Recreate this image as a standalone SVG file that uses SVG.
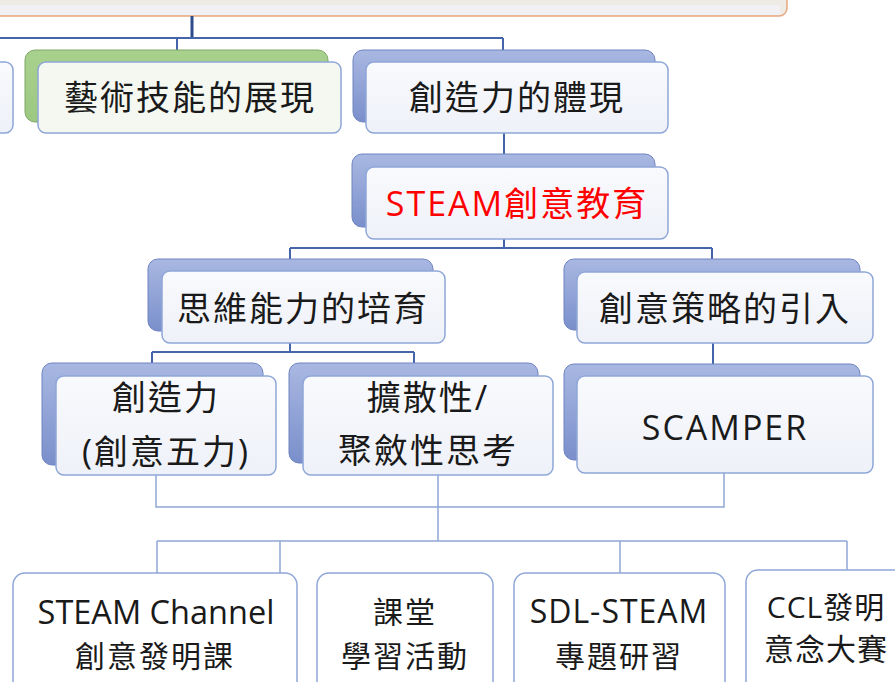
<svg xmlns="http://www.w3.org/2000/svg" width="895" height="682" viewBox="0 0 895 682">
<defs>
  <linearGradient id="gBack" x1="0" y1="0" x2="0" y2="1">
    <stop offset="0" stop-color="#A9B8E2"/>
    <stop offset="1" stop-color="#7A8FCB"/>
  </linearGradient>
  <linearGradient id="gGreen" x1="0" y1="0" x2="0" y2="1">
    <stop offset="0" stop-color="#A9D18E"/>
    <stop offset="1" stop-color="#9CC882"/>
  </linearGradient>
  <linearGradient id="gFront" x1="0" y1="0" x2="0" y2="1">
    <stop offset="0" stop-color="#F9FAFD"/>
    <stop offset="1" stop-color="#EEF1F8"/>
  </linearGradient>
</defs>
<style>
  .back{fill:url(#gBack);stroke:#6F84C2;stroke-width:1}
  .green{fill:url(#gGreen);stroke:#7FA866;stroke-width:1}
  .front{fill:url(#gFront);stroke:#8EA6D8;stroke-width:1.5}
  .leaf{fill:#FFFFFF;stroke:#8EA6D8;stroke-width:1.5}
  .t{font-family:"Open Sans","Noto Sans CJK TC",sans-serif;font-size:34px;letter-spacing:2px;fill:#1A1A1A;text-anchor:middle}
  .s{font-size:30px}
  .red{fill:#FF0000}
  .c1{fill:none;stroke:#4565AA;stroke-width:2}
  .c2{fill:none;stroke:#8EA8D8;stroke-width:1.5}
</style>
<rect width="895" height="682" fill="#FFFFFF"/>

<g id="top-box">
  <rect x="-20" y="-20" width="807" height="36" rx="8" fill="#EDEBE4" stroke="#E8A87C" stroke-width="1.5"/>
  <rect x="0" y="5" width="780" height="10" fill="#F1F0F4"/>
</g>

<g id="connectors">
  <path d="M192 16 V38" fill="none" stroke="#2E4C8C" stroke-width="3"/>
  <path class="c1" d="M0 38 H503 M177 38 V50 M503 38 V50"/>
  <path class="c1" d="M504 133 V154 M504 239 V248 M290 248 H712 M290 248 V259 M712 248 V259"/>
  <path class="c1" d="M290 343 V352 M152 352 H414 M152 352 V363 M414 352 V363 M713 343 V364"/>
  <path class="c2" d="M156 475 V507 H724 V473 M438 475 V541 M157 541 H847 M157 541 V573 M280 541 V573 M620 541 V573 M847 541 V570"/>
</g>

<g id="node-left">
  <rect class="front" x="-20" y="62" width="33" height="71" rx="8"/>
</g>

<g id="node-art">
  <rect class="green" x="25" y="50" width="303" height="72" rx="10"/>
  <rect x="38" y="62" width="303" height="71" rx="8" fill="#F4F8F1" stroke="#8EA6D8" stroke-width="1.5"/>
  <text class="t" x="190" y="110">藝術技能的展現</text>
</g>

<g id="node-create">
  <rect class="back" x="353" y="50" width="302" height="72" rx="10"/>
  <rect class="front" x="366" y="62" width="302" height="71" rx="8"/>
  <text class="t" x="517" y="110">創造力的體現</text>
</g>

<g id="node-steam">
  <rect class="back" x="352" y="154" width="303" height="73" rx="10"/>
  <rect class="front" x="366" y="167" width="302" height="72" rx="8"/>
  <text class="t red" x="517" y="216">STEAM創意教育</text>
</g>

<g id="node-think">
  <rect class="back" x="148" y="259" width="285" height="72" rx="10"/>
  <rect class="front" x="162" y="271" width="283" height="72" rx="8"/>
  <text class="t" x="303" y="321">思維能力的培育</text>
</g>

<g id="node-strategy">
  <rect class="back" x="564" y="259" width="296" height="71" rx="10"/>
  <rect class="front" x="577" y="272" width="296" height="71" rx="8"/>
  <text class="t" x="725" y="321">創意策略的引入</text>
</g>

<g id="node-five">
  <rect class="back" x="42" y="363" width="221" height="102" rx="10"/>
  <rect class="front" x="56" y="376" width="220" height="99" rx="8"/>
  <text class="t" x="166" y="410">創造力</text>
  <text class="t" x="166" y="464">(創意五力)</text>
</g>

<g id="node-divergent">
  <rect class="back" x="289" y="363" width="249" height="100" rx="10"/>
  <rect class="front" x="303" y="376" width="250" height="99" rx="8"/>
  <text class="t" x="428" y="410">擴散性/</text>
  <text class="t" x="428" y="463">聚斂性思考</text>
</g>

<g id="node-scamper">
  <rect class="back" x="564" y="364" width="296" height="96" rx="10"/>
  <rect class="front" x="577" y="376" width="296" height="97" rx="8"/>
  <text class="t" x="725" y="440">SCAMPER</text>
</g>

<g id="leaf-channel">
  <rect class="leaf" x="13" y="573" width="284" height="130" rx="12"/>
  <text class="t s" x="156" y="624" style="font-size:32.5px;letter-spacing:0">STEAM Channel</text>
  <text class="t s" x="155" y="667">創意發明課</text>
</g>

<g id="leaf-class">
  <rect class="leaf" x="317" y="573" width="176" height="130" rx="12"/>
  <text class="t s" x="405" y="623">課堂</text>
  <text class="t s" x="405" y="667">學習活動</text>
</g>

<g id="leaf-sdl">
  <rect class="leaf" x="514" y="573" width="211" height="130" rx="12"/>
  <text class="t s" x="619" y="623" style="font-size:32px;letter-spacing:1px">SDL-STEAM</text>
  <text class="t s" x="619" y="667">專題研習</text>
</g>

<g id="leaf-ccl">
  <rect class="leaf" x="746" y="570" width="170" height="130" rx="12"/>
  <text class="t s" x="826" y="618" style="letter-spacing:1px">CCL發明</text>
  <text class="t s" x="826" y="660" style="letter-spacing:1px">意念大賽</text>
</g>
</svg>
